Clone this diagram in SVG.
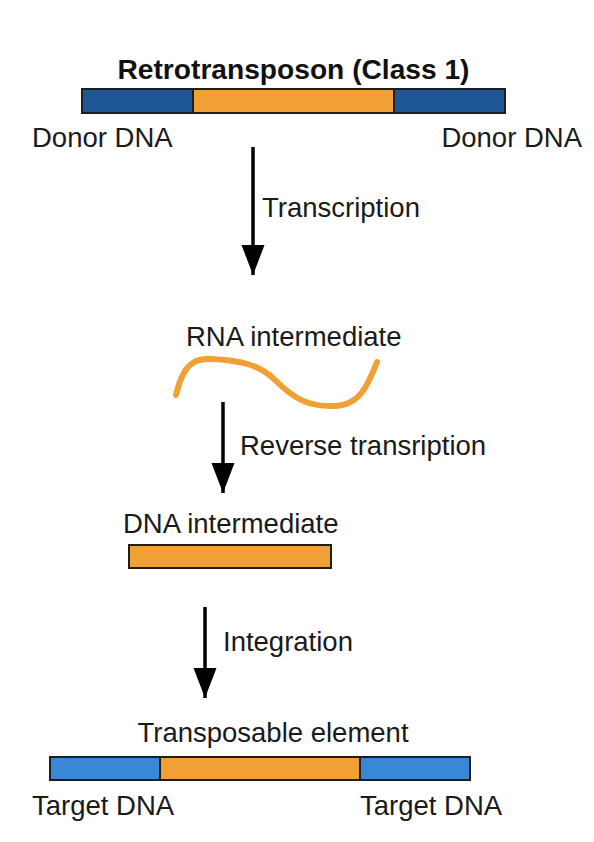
<svg xmlns="http://www.w3.org/2000/svg" width="594" height="842" viewBox="0 0 594 842">
<style>
text{font-family:"Liberation Sans",Arial,Helvetica,sans-serif;font-size:27.5px;fill:#1a1a1a}
.title{font-weight:bold;fill:#111}
.seg{stroke:#1e1e1e;stroke-width:2}
.donor{fill:#1d5595}
.te{fill:#f0a035}
.target{fill:#3a87d8}
.arrow{stroke:#000;stroke-width:3.5;fill:none;marker-end:url(#ah)}
.rna{fill:none;stroke:#f0a035;stroke-width:6;stroke-linecap:round;stroke-linejoin:round}
</style>
<defs>
<marker id="ah" markerUnits="userSpaceOnUse" markerWidth="30" markerHeight="24" viewBox="0 -12 30 24" refX="30" refY="0" orient="auto">
<path d="M0,-11.5 L30,0 L0,11.5 Z" fill="#000"/>
</marker>
</defs>
<rect width="594" height="842" fill="#fff"/>
<g id="donor-construct">
<text class="title" x="293.5" y="79" text-anchor="middle" textLength="352" lengthAdjust="spacingAndGlyphs">Retrotransposon (Class 1)</text>
<rect class="seg donor" x="82" y="89" width="111" height="24"/>
<rect class="seg te" x="193" y="89" width="201" height="24"/>
<rect class="seg donor" x="394" y="89" width="111" height="24"/>
<text x="32" y="147">Donor DNA</text>
<text x="582" y="147" text-anchor="end">Donor DNA</text>
</g>
<g id="rna-intermediate">
<text x="186" y="346">RNA intermediate</text>
<path class="rna" d="M176,395 C182,370 190,358 210,359 C240,360 260,365 275,380 C295,400 310,407 335,406 C360,405 368,385 377,362"/>
</g>
<g id="dna-intermediate">
<text x="123" y="533">DNA intermediate</text>
<rect class="seg te" x="129" y="545" width="202" height="23"/>
</g>
<g id="transposable-element">
<text x="273" y="742" text-anchor="middle">Transposable element</text>
<rect class="seg target" x="50" y="757" width="110" height="23"/>
<rect class="seg te" x="160" y="757" width="200" height="23"/>
<rect class="seg target" x="360" y="757" width="110" height="23"/>
<text x="32" y="815">Target DNA</text>
<text x="360" y="815">Target DNA</text>
</g>
<g id="connectors">
<line class="arrow" x1="253" y1="147" x2="253" y2="275"/>
<text x="262" y="217">Transcription</text>
<line class="arrow" x1="223" y1="402" x2="223" y2="493"/>
<text x="240" y="455">Reverse transription</text>
<line class="arrow" x1="205" y1="607" x2="205" y2="698"/>
<text x="223" y="651">Integration</text>
</g>
</svg>
